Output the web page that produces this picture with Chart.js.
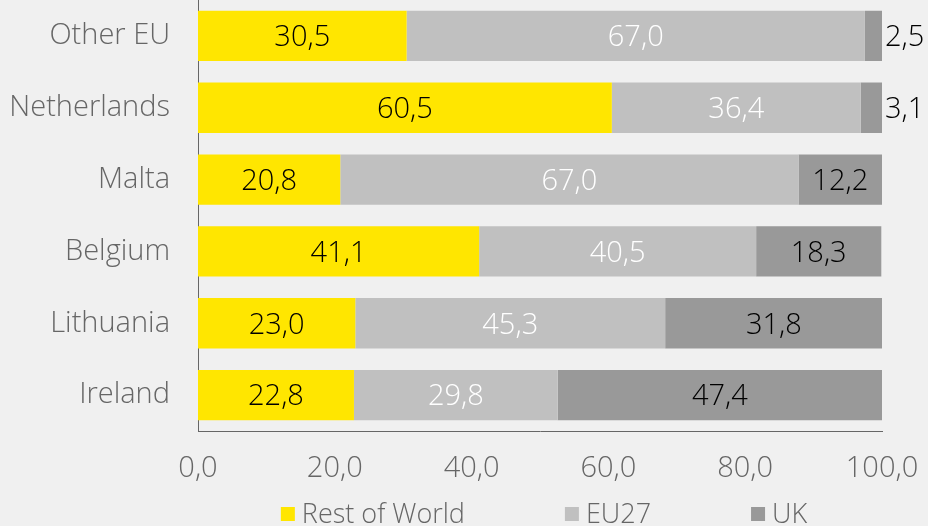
<!DOCTYPE html>
<html>
<head>
<meta charset="utf-8">
<script src="https://cdn.jsdelivr.net/npm/chart.js@4.4.1/dist/chart.umd.min.js"></script>
<style>
  html, body { margin: 0; padding: 0; background: #f0f0f0; }
  #wrap { width: 928px; height: 526px; }
</style>
</head>
<body>
<div id="wrap"><canvas id="myChart"></canvas></div>
<script>
var countries = ['Other EU', 'Netherlands', 'Malta', 'Belgium', 'Lithuania', 'Ireland'];
var restOfWorld = [30.5, 60.5, 20.8, 41.1, 23.0, 22.8];
var eu27 = [67.0, 36.4, 67.0, 40.5, 45.3, 29.8];
var uk = [2.5, 3.1, 12.2, 18.3, 31.8, 47.4];
var xTicks = [0, 20, 40, 60, 80, 100];

var fontFamily = '"Open Sans", sans-serif';
var fontSize = 29;
var legendSize = 27;
var fontWeight = '300';

function fmt(v) {
    return v.toFixed(1).replace('.', ',');
}

// value labels inside the segments, small ones go outside the bar
var valueLabels = {
    id: 'valueLabels',
    afterDatasetsDraw: function(chart) {
        var ctx = chart.ctx;
        ctx.save();
        ctx.font = fontWeight + ' ' + fontSize + 'px ' + fontFamily;
        ctx.textBaseline = 'middle';
        chart.data.datasets.forEach(function(ds, i) {
            var meta = chart.getDatasetMeta(i);
            meta.data.forEach(function(bar, j) {
                var v = ds.data[j];
                if (v < 5) {
                    ctx.textAlign = 'left';
                    ctx.fillStyle = '#000';
                    ctx.fillText(fmt(v), bar.x + 3, bar.y + 2);
                } else {
                    ctx.textAlign = 'center';
                    ctx.fillStyle = ds.labelColor;
                    ctx.fillText(fmt(v), (bar.x + bar.base) / 2, bar.y + 2);
                }
            });
        });
        ctx.restore();
    }
};

// legend at the bottom, wide gaps between items
var bottomLegend = {
    id: 'bottomLegend',
    afterDraw: function(chart) {
        var ctx = chart.ctx;
        var box = 14, gap = 100, textGap = 7;
        ctx.save();
        ctx.font = fontWeight + ' ' + legendSize + 'px ' + fontFamily;
        ctx.textBaseline = 'middle';
        ctx.textAlign = 'left';
        var widths = chart.data.datasets.map(function(ds) {
            return box + textGap + ctx.measureText(ds.label).width;
        });
        var total = widths.reduce(function(a, b) { return a + b; }, 0) + gap * (widths.length - 1);
        var x = (chart.chartArea.left + chart.chartArea.right) / 2 - total / 2 + 4;
        var y = chart.height - 12;
        chart.data.datasets.forEach(function(ds, i) {
            ctx.fillStyle = ds.backgroundColor;
            ctx.fillRect(x, y - box / 2, box, box);
            ctx.fillStyle = '#666';
            ctx.fillText(ds.label, x + box + textGap, y + 1);
            x += widths[i] + gap;
        });
        ctx.restore();
    }
};

var ctx = document.getElementById('myChart').getContext('2d');
var myChart = new Chart(ctx, {
    type: 'bar',
    data: {
        labels: countries,
        datasets: [{
            label: 'Rest of World',
            data: restOfWorld,
            backgroundColor: '#ffe600',
            labelColor: '#000'
        }, {
            label: 'EU27',
            data: eu27,
            backgroundColor: '#c0c0c0',
            labelColor: '#fff'
        }, {
            label: 'UK',
            data: uk,
            backgroundColor: '#999999',
            labelColor: '#000'
        }]
    },
    options: {
        indexAxis: 'y',
        responsive: true,
        maintainAspectRatio: false,
        animation: false,
        layout: {
            padding: { top: 0, right: 46, bottom: 40, left: 0 }
        },
        datasets: {
            bar: { categoryPercentage: 1, barPercentage: 0.7 }
        },
        scales: {
            x: {
                stacked: true,
                min: 0,
                max: 100,
                afterBuildTicks: function(axis) {
                    axis.ticks = xTicks.map(function(v) { return { value: v }; });
                },
                afterFit: function(scale) {
                    scale.height = 55;
                    scale.paddingLeft = 0;
                    scale.paddingRight = 0;
                },
                grid: { display: false, drawTicks: false },
                border: { display: true, color: '#666', width: 1 },
                ticks: {
                    padding: 20,
                    color: '#666',
                    maxRotation: 0,
                    font: { family: fontFamily, size: fontSize, weight: fontWeight },
                    callback: function(v) { return fmt(v); }
                }
            },
            y: {
                stacked: true,
                afterFit: function(scale) {
                    scale.width = 198;
                    scale.paddingTop = 0;
                    scale.paddingBottom = 0;
                },
                grid: { display: false, drawTicks: false },
                border: { display: true, color: '#666', width: 1 },
                ticks: {
                    padding: 28,
                    color: '#666',
                    font: { family: fontFamily, size: fontSize, weight: fontWeight }
                }
            }
        },
        plugins: {
            legend: { display: false },
            tooltip: { enabled: false }
        }
    },
    plugins: [valueLabels, bottomLegend]
});
</script>
</body>
</html>
